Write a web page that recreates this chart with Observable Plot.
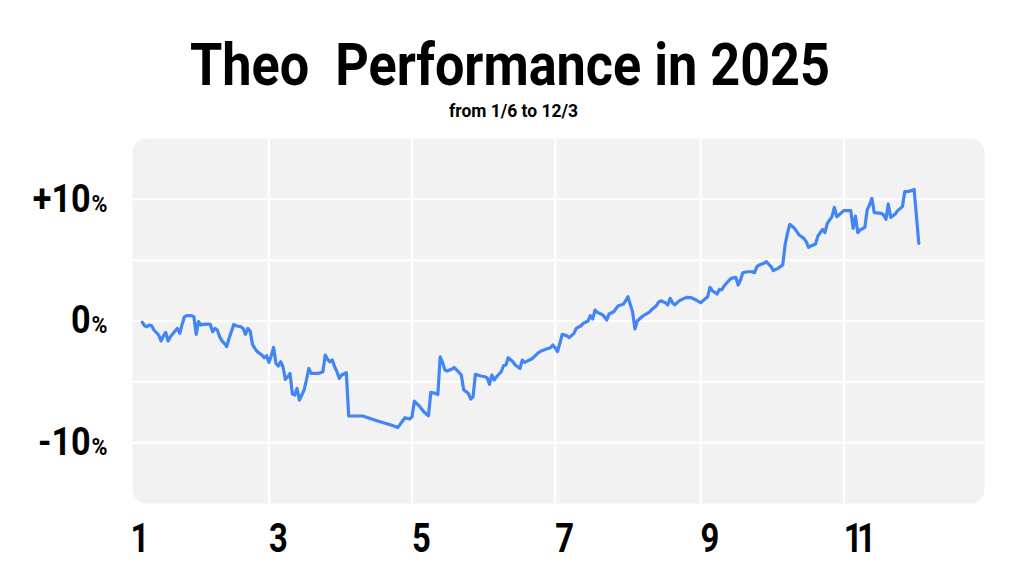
<!DOCTYPE html>
<html>
<head>
<meta charset="utf-8">
<script src="https://cdn.jsdelivr.net/npm/d3@7"></script>
<script src="https://cdn.jsdelivr.net/npm/@observablehq/plot@0.6"></script>
<style>
  html, body { margin: 0; padding: 0; background: #fff; }
  #wrap { position: relative; width: 1024px; height: 576px; overflow: hidden; }
  .f { font-family: Roboto, "Noto Sans", sans-serif; font-weight: bold; color: #000; line-height: 1; white-space: pre; position: absolute; display: inline-block; transform-origin: 0 0; }
  #title { top: 34.5px; font-size: 60px; }
  #subtitle { top: 102.5px; font-size: 17.5px; }
  #chart { position: absolute; left: 0; top: 0; }
</style>
</head>
<body>
<div id="wrap">
  <div id="chart"></div>
  <span id="title" class="f">Theo  Performance in 2025</span>
  <span id="subtitle" class="f">from 1/6 to 12/3</span>
</div>
<script>
const dates = [
"2025-01-06","2025-01-07","2025-01-08","2025-01-09","2025-01-10","2025-01-11","2025-01-13","2025-01-14","2025-01-15","2025-01-16",
"2025-01-17","2025-01-18","2025-01-20","2025-01-21","2025-01-22","2025-01-23","2025-01-24","2025-01-25","2025-01-27","2025-01-28",
"2025-01-29","2025-01-30","2025-01-31","2025-02-01","2025-02-03","2025-02-04","2025-02-05","2025-02-06","2025-02-07","2025-02-08",
"2025-02-09","2025-02-10","2025-02-11","2025-02-12","2025-02-14","2025-02-15","2025-02-17","2025-02-18","2025-02-19","2025-02-20",
"2025-02-21","2025-02-22","2025-02-23","2025-02-24","2025-02-26","2025-02-27","2025-02-28","2025-03-01","2025-03-02","2025-03-03",
"2025-03-04","2025-03-05","2025-03-06","2025-03-07","2025-03-08","2025-03-09","2025-03-10","2025-03-11","2025-03-12","2025-03-13",
"2025-03-14","2025-03-16","2025-03-17","2025-03-18","2025-03-19","2025-03-22","2025-03-24","2025-03-25","2025-03-26","2025-03-27",
"2025-03-28","2025-03-29","2025-03-30","2025-03-31","2025-04-01","2025-04-03","2025-04-04","2025-04-10","2025-04-16","2025-04-22",
"2025-04-25","2025-04-26","2025-04-28","2025-04-30","2025-05-01","2025-05-02","2025-05-04","2025-05-06","2025-05-08","2025-05-09",
"2025-05-11","2025-05-12","2025-05-13","2025-05-14","2025-05-15","2025-05-16","2025-05-18","2025-05-19","2025-05-21","2025-05-22",
"2025-05-23","2025-05-25","2025-05-26","2025-05-27","2025-05-28","2025-05-30","2025-06-01","2025-06-02","2025-06-03","2025-06-04",
"2025-06-05","2025-06-06","2025-06-08","2025-06-09","2025-06-10","2025-06-11","2025-06-13","2025-06-14","2025-06-16","2025-06-17",
"2025-06-18","2025-06-20","2025-06-21","2025-06-24","2025-06-25","2025-06-27","2025-06-29","2025-06-30","2025-07-01","2025-07-02",
"2025-07-03","2025-07-04","2025-07-06","2025-07-07","2025-07-09","2025-07-10","2025-07-12","2025-07-13","2025-07-15","2025-07-16",
"2025-07-17","2025-07-18","2025-07-19","2025-07-21","2025-07-22","2025-07-23","2025-07-24","2025-07-26","2025-07-27","2025-07-28",
"2025-07-30","2025-07-31","2025-08-01","2025-08-03","2025-08-04","2025-08-05","2025-08-07","2025-08-08","2025-08-10","2025-08-11",
"2025-08-13","2025-08-14","2025-08-15","2025-08-17","2025-08-18","2025-08-19","2025-08-20","2025-08-21","2025-08-23","2025-08-25",
"2025-08-26","2025-08-28","2025-08-30","2025-09-01","2025-09-02","2025-09-04","2025-09-05","2025-09-06","2025-09-08","2025-09-09",
"2025-09-10","2025-09-11","2025-09-13","2025-09-14","2025-09-16","2025-09-17","2025-09-18","2025-09-19","2025-09-21","2025-09-23",
"2025-09-24","2025-09-25","2025-09-26","2025-09-28","2025-09-29","2025-10-01","2025-10-02","2025-10-04","2025-10-05","2025-10-06",
"2025-10-07","2025-10-08","2025-10-09","2025-10-11","2025-10-12","2025-10-13","2025-10-15","2025-10-16","2025-10-17","2025-10-18",
"2025-10-20","2025-10-21","2025-10-23","2025-10-24","2025-10-25","2025-10-26","2025-10-27","2025-10-28","2025-10-29","2025-10-30",
"2025-11-01","2025-11-02","2025-11-04","2025-11-05","2025-11-06","2025-11-07","2025-11-08","2025-11-10","2025-11-11","2025-11-12",
"2025-11-13","2025-11-14","2025-11-17","2025-11-18","2025-11-19","2025-11-20","2025-11-21","2025-11-23","2025-11-24","2025-11-26",
"2025-11-27","2025-11-28","2025-11-30","2025-12-01","2025-12-03"
];
const values = [
-0.10,-0.39,-0.47,-0.33,-0.39,-0.74,-1.15,-1.64,-1.23,-0.94,
-1.64,-1.29,-0.82,-0.61,-1.02,-0.28,0.35,0.44,0.44,0.35,
-1.10,-0.05,-0.33,-0.28,-0.25,-0.28,-0.88,-0.61,-0.74,-1.29,
-1.64,-1.84,-2.11,-1.43,-0.28,-0.39,-0.47,-0.61,-1.10,-0.61,
-0.82,-1.92,-2.25,-2.52,-2.80,-3.02,-2.85,-3.40,-2.85,-2.17,
-3.49,-3.70,-3.35,-3.76,-4.80,-4.58,-4.31,-6.00,-6.09,-5.54,
-6.50,-5.67,-4.85,-3.90,-4.31,-4.31,-4.17,-2.80,-3.16,-3.35,
-3.21,-3.76,-4.17,-4.72,-4.44,-4.25,-7.81,-7.81,-8.20,-8.55,
-8.75,-8.47,-7.95,-8.06,-7.87,-6.58,-6.97,-7.46,-7.79,-5.87,
-5.95,-6.04,-2.94,-3.40,-4.03,-4.11,-3.95,-3.82,-4.23,-4.44,
-5.65,-5.95,-6.41,-6.23,-4.39,-4.50,-4.58,-4.66,-5.21,-4.44,
-4.85,-4.58,-4.17,-3.68,-3.62,-3.02,-3.35,-3.62,-3.90,-3.21,
-3.40,-3.21,-3.13,-2.58,-2.47,-2.33,-2.20,-1.97,-2.20,-2.52,
-1.84,-1.10,-1.21,-1.37,-1.02,-0.61,-0.39,-0.20,0.00,0.44,
0.16,0.90,0.71,0.54,0.35,0.08,0.58,0.76,1.04,1.26,
1.37,1.64,2.00,0.76,-0.66,0.00,0.35,0.49,0.71,0.90,
1.23,1.53,1.66,1.50,1.32,1.86,1.50,1.32,1.67,1.86,
1.94,1.92,1.73,1.50,1.67,2.00,2.76,2.49,2.22,2.60,
2.55,2.88,3.31,3.50,3.59,2.96,3.37,3.97,4.05,4.05,
3.97,4.47,4.61,4.74,4.88,4.47,4.14,4.33,4.47,4.61,
6.25,7.20,7.95,7.62,7.34,7.07,6.79,6.52,6.05,6.17,
6.33,6.99,7.53,7.26,8.03,8.31,8.58,9.34,8.58,8.72,
9.07,9.07,9.07,7.62,8.63,7.26,7.48,7.70,9.13,9.54,
10.08,8.91,8.85,8.72,8.36,9.62,8.52,8.80,9.07,9.40,
10.63,10.63,10.72,10.82,6.38
];
const xDomain = ["2025-01-01", "2025-12-31"];
const xTickDates = ["2025-01-01", "2025-03-01", "2025-05-01", "2025-07-01", "2025-09-01", "2025-11-01"];
const xGridDates = ["2025-03-01", "2025-05-01", "2025-07-01", "2025-09-01", "2025-11-01"];
const yTicks = [-10, 0, 10];
const yGrid = [-10, -5, 0, 5, 10];
const yDomain = [-15, 15];

const parse = d3.utcParse("%Y-%m-%d");
const data = dates.map((d, i) => ({date: parse(d), value: values[i]}));
const FONT = "Roboto, 'Noto Sans', sans-serif";

const chart = Plot.plot({
  width: 1024,
  height: 576,
  marginTop: 138,
  marginBottom: 73,
  marginLeft: 130,
  marginRight: 40,
  style: {fontFamily: FONT, fontWeight: "bold", color: "#000", background: "transparent", overflow: "visible"},
  x: {type: "utc", domain: xDomain.map(parse)},
  y: {domain: yDomain},
  marks: [
    Plot.frame({fill: "#f2f2f2", stroke: null, rx: 14, insetLeft: 2}),
    Plot.gridX(xGridDates.map(parse), {stroke: "#ffffff", strokeOpacity: 1, strokeWidth: 2}),
    Plot.gridY(yGrid, {stroke: "#ffffff", strokeOpacity: 1, strokeWidth: 2}),
    Plot.line(data, {x: "date", y: "value", stroke: "#4285f4", strokeWidth: 3.2, strokeLinejoin: "round"}),
    Plot.axisX({
      ticks: xTickDates.map(parse),
      tickFormat: d => String(d.getUTCMonth() + 1),
      tickSize: 0, tickPadding: 19, textAnchor: "start",
      fontSize: 41, fontWeight: "bold", fill: "#000", label: null
    }),
    Plot.axisY({
      ticks: yTicks,
      tickFormat: d => (d > 0 ? "+" : "") + d + "%",
      tickSize: 0, tickPadding: 23,
      fontSize: 38, fontWeight: "bold", fill: "#000", label: null
    })
  ]
});

// condense a text element horizontally about its anchor
function condense(t, s) {
  const tr = t.getAttribute("transform") || "";
  t.setAttribute("transform", (tr + ` scale(${s},1)`).trim());
  const x = t.getAttribute("x");
  if (x !== null && x !== "") t.setAttribute("x", (+x) / s);
}

// make the "%" smaller, as in the reference
chart.querySelectorAll('[aria-label="y-axis tick label"] text').forEach(t => {
  const s = t.textContent;
  if (s.endsWith("%")) {
    t.textContent = s.slice(0, -1);
    const ts = document.createElementNS("http://www.w3.org/2000/svg", "tspan");
    ts.setAttribute("font-size", "24");
    ts.setAttribute("dx", "1");
    ts.textContent = "%";
    t.appendChild(ts);
  }
  condense(t, 0.9);
});
chart.querySelectorAll('[aria-label="x-axis tick label"] text').forEach(t => {
  t.setAttribute("letter-spacing", "-7");
  condense(t, 0.8);
});

document.getElementById("chart").appendChild(chart);

// fit title and subtitle to the reference's condensed widths
function fit(id, width, centerX) {
  const el = document.getElementById(id);
  const w = el.getBoundingClientRect().width;
  const s = width / w;
  el.style.left = (centerX - width / 2) + "px";
  el.style.transform = `scale(${s},1)`;
}
fit("title", 640, 510);
fit("subtitle", 129, 513.5);
</script>
</body>
</html>
